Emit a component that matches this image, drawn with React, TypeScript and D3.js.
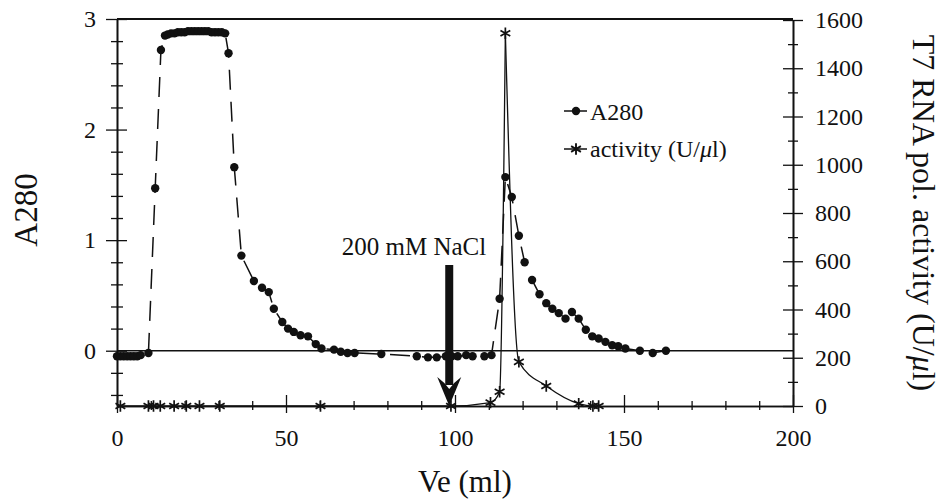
import React, { useRef, useEffect } from "react";
import {
  select,
  scaleLinear,
  line,
  range,
  max,
  symbol,
  symbolAsterisk,
  curveMonotoneX,
  axisLeft,
  axisRight,
  axisBottom
} from "d3";

// A280 readings along the elution volume (ml)
const a280Ve = [
  0, 1, 2, 3, 4, 5, 6, 7, 9.3, 11.3, 13,
  14.2, 15, 16, 17, 18, 19, 20, 21, 22, 23, 24, 25, 26, 27, 28, 29, 30, 31, 32,
  33, 34.7, 36.8, 40.5, 42.9, 44.9, 46.4, 48.9, 50.6, 52.3, 54.3, 56.5, 58.8, 60.5,
  64.2, 66.2, 68.2, 70.3, 78.2, 88.7, 92, 94.6, 97.3, 99, 100.8, 103.3, 105.2, 108.7, 110.8,
  113.2, 114.9, 116.8, 118.9, 120.6, 122.8, 125, 127, 128.8, 130.7, 132.7, 134.6, 136.6,
  138.7, 140.6, 142.5, 144.5, 146.5, 148.3, 150.4, 154.7, 158.5, 162.4
];
const a280 = [
  -0.05, -0.05, -0.05, -0.05, -0.05, -0.05, -0.05, -0.04, -0.02, 1.47, 2.72,
  2.85, 2.86, 2.87, 2.87, 2.88, 2.88, 2.88, 2.89, 2.89, 2.89, 2.89, 2.89, 2.89, 2.89, 2.88, 2.88, 2.88, 2.88, 2.87,
  2.69, 1.66, 0.86, 0.63, 0.57, 0.53, 0.38, 0.26, 0.2, 0.17, 0.14, 0.13, 0.06, 0.02,
  0.01, -0.01, -0.02, -0.02, -0.03, -0.05, -0.06, -0.06, -0.05, -0.05, -0.05, -0.04, -0.05, -0.05, -0.04,
  0.47, 1.57, 1.39, 1.04, 0.8, 0.64, 0.51, 0.43, 0.38, 0.34, 0.29, 0.35, 0.29,
  0.19, 0.13, 0.11, 0.08, 0.05, 0.04, 0.02, 0.0, -0.02, 0.0
];

// T7 RNA polymerase activity (U/ul)
const actVe = [1, 9.3, 10.8, 12.8, 16.9, 20.5, 24.4, 30.4, 60.2, 98.8, 110.5, 113.2, 114.9, 118.9, 127, 136.6, 140.8, 142.5];
const activity = [0, 0, 0, 0, 0, 0, 0, 0, 0, 0, 14, 59, 1545, 183, 83, 10, 0, 0];

const veTicks = [0, 50, 100, 150, 200];
const a280Ticks = [0, 1, 2, 3];
const actTicks = [0, 200, 400, 600, 800, 1000, 1200, 1400, 1600];

const naclVe = 98;
const naclLabel = "200 mM NaCl";

const W = 944;
const H = 501;
const plot = { left: 117, right: 793, top: 19, bottom: 406 };
const serif = "'Liberation Serif', 'Times New Roman', Times, serif";

const App = () => {
  const svgRef = useRef(null);

  useEffect(() => {
    document.body.style.margin = "0";
    const svg = select(svgRef.current);
    svg.selectAll("*").remove();

    const x = scaleLinear().domain([0, 200]).range([plot.left, plot.right]);
    const yA = scaleLinear().domain([-0.5, 3]).range([plot.bottom, plot.top]);
    const yAct = scaleLinear().domain([0, 1600]).range([plot.bottom, plot.top + 1]);

    const g = svg.append("g");

    // top frame + zero line of A280
    g.append("line")
      .attr("x1", plot.left).attr("x2", plot.right)
      .attr("y1", plot.top).attr("y2", plot.top)
      .attr("stroke", "#111").attr("stroke-width", 2);
    g.append("line")
      .attr("x1", plot.left).attr("x2", plot.right)
      .attr("y1", yA(0)).attr("y2", yA(0))
      .attr("stroke", "#111").attr("stroke-width", 1.5);

    const styleAxis = (sel, size) => {
      sel.attr("font-family", serif).attr("font-size", size).attr("fill", "#111");
      sel.select(".domain").attr("stroke", "#111").attr("stroke-width", 1.6);
      sel.selectAll(".tick line").attr("stroke", "#111").attr("stroke-width", 1.3);
      sel.selectAll(".tick text").attr("fill", "#111");
    };

    // left axis
    const leftMinor = range(-2, 15).map((d) => d / 5).filter((d) => !Number.isInteger(d));
    const lMin = g.append("g").attr("transform", `translate(${plot.left},0)`)
      .call(axisLeft(yA).tickValues(leftMinor).tickSize(6).tickSizeOuter(0).tickFormat(() => ""));
    styleAxis(lMin, 24);
    lMin.selectAll(".tick line").attr("x1", 6);
    const lMaj = g.append("g").attr("transform", `translate(${plot.left},0)`)
      .call(axisLeft(yA).tickValues(a280Ticks).tickSize(11).tickPadding(10).tickSizeOuter(0).tickFormat((d) => String(d)));
    styleAxis(lMaj, 24);
    lMaj.selectAll(".tick line").attr("x1", 10);

    // right axis
    const rightMinor = range(100, 1600, 200);
    const rMin = g.append("g").attr("transform", `translate(${plot.right},0)`)
      .call(axisRight(yAct).tickValues(rightMinor).tickSize(5).tickSizeOuter(0).tickFormat(() => ""));
    styleAxis(rMin, 24);
    rMin.selectAll(".tick line").attr("x1", -5);
    const rMaj = g.append("g").attr("transform", `translate(${plot.right},0)`)
      .call(axisRight(yAct).tickValues(actTicks).tickSize(10).tickPadding(12).tickSizeOuter(0).tickFormat((d) => String(d)));
    styleAxis(rMaj, 24);
    rMaj.selectAll(".tick line").attr("x1", -10);

    // bottom axis
    const veMinor = range(10, 200, 10).filter((d) => d % 50 !== 0);
    const bMin = g.append("g").attr("transform", `translate(0,${plot.bottom})`)
      .call(axisBottom(x).tickValues(veMinor).tickSize(4).tickSizeOuter(0).tickFormat(() => ""));
    styleAxis(bMin, 24);
    bMin.selectAll(".tick line").attr("y1", -5);
    const bMaj = g.append("g").attr("transform", `translate(0,${plot.bottom})`)
      .call(axisBottom(x).tickValues(veTicks).tickSize(7).tickPadding(16).tickSizeOuter(0).tickFormat((d) => String(d)));
    styleAxis(bMaj, 24);
    bMaj.selectAll(".tick line").attr("y1", -11);

    // axis titles
    g.append("text")
      .attr("transform", `translate(37,210) rotate(-90)`)
      .attr("text-anchor", "middle")
      .attr("font-family", serif).attr("font-size", 33).attr("fill", "#111")
      .text("A280");
    const rt = g.append("text")
      .attr("transform", `translate(913,213) rotate(90)`)
      .attr("text-anchor", "middle")
      .attr("font-family", serif).attr("font-size", 32).attr("fill", "#111");
    rt.append("tspan").text("T7 RNA pol. activity (U/");
    rt.append("tspan").attr("font-style", "italic").text("\u03bc");
    rt.append("tspan").text("l)");
    g.append("text")
      .attr("x", 465).attr("y", 492)
      .attr("text-anchor", "middle")
      .attr("font-family", serif).attr("font-size", 31).attr("fill", "#111")
      .text("Ve (ml)");

    // activity line (split at the peak so both flanks stay steep)
    const peak = activity.indexOf(max(activity));
    const actLine = line()
      .x((i) => x(actVe[i]))
      .y((i) => yAct(activity[i]))
      .curve(curveMonotoneX);
    [range(0, peak + 1), range(peak, activity.length)].forEach((idx) => {
      g.append("path")
        .attr("d", actLine(idx))
        .attr("fill", "none")
        .attr("stroke", "#111")
        .attr("stroke-width", 1.3);
    });

    // A280 dashed line + dots
    const aLine = line()
      .x((d, i) => x(a280Ve[i]))
      .y((d) => yA(d));
    g.append("path")
      .attr("d", aLine(a280))
      .attr("fill", "none")
      .attr("stroke", "#111")
      .attr("stroke-width", 1.5)
      .attr("stroke-dasharray", "20,12");
    g.append("g")
      .selectAll("circle")
      .data(a280)
      .enter()
      .append("circle")
      .attr("cx", (d, i) => x(a280Ve[i]))
      .attr("cy", (d) => yA(d))
      .attr("r", 4.2)
      .attr("fill", "#111");

    const star = symbol(symbolAsterisk, 90);
    g.append("g")
      .selectAll("path")
      .data(activity)
      .enter()
      .append("path")
      .attr("d", star())
      .attr("transform", (d, i) => `translate(${x(actVe[i])},${yAct(d)})`)
      .attr("fill", "none")
      .attr("stroke", "#111")
      .attr("stroke-width", 1.7);

    // NaCl arrow
    const ax = x(naclVe) + 1;
    g.append("rect")
      .attr("x", ax - 4).attr("y", 265)
      .attr("width", 8).attr("height", 120)
      .attr("fill", "#111");
    g.append("path")
      .attr("d", `M${ax},${plot.bottom} L${ax - 12},${377} Q${ax - 5},${382} ${ax},${389} Q${ax + 5},${382} ${ax + 12},${377} Z`)
      .attr("fill", "#111");
    g.append("text")
      .attr("x", ax + 37).attr("y", 255)
      .attr("text-anchor", "end")
      .attr("font-family", serif).attr("font-size", 25).attr("fill", "#111")
      .text(naclLabel);

    // legend
    const leg = g.append("g").attr("font-family", serif).attr("font-size", 24).attr("fill", "#111");
    leg.append("line").attr("x1", 564).attr("x2", 587).attr("y1", 111).attr("y2", 111)
      .attr("stroke", "#111").attr("stroke-width", 1.5);
    leg.append("circle").attr("cx", 576).attr("cy", 111).attr("r", 4.2).attr("fill", "#111");
    leg.append("text").attr("x", 590).attr("y", 120).text("A280");
    leg.append("line").attr("x1", 564).attr("x2", 587).attr("y1", 149).attr("y2", 149)
      .attr("stroke", "#111").attr("stroke-width", 1.5);
    leg.append("path").attr("d", star()).attr("transform", "translate(576,149)")
      .attr("fill", "none").attr("stroke", "#111").attr("stroke-width", 1.9);
    const lt = leg.append("text").attr("x", 590).attr("y", 157);
    lt.append("tspan").text("activity (U/");
    lt.append("tspan").attr("font-style", "italic").text("\u03bc");
    lt.append("tspan").text("l)");
  }, []);

  return <svg ref={svgRef} width={W} height={H} style={{ display: "block", background: "#fff" }} />;
};

export default App;
